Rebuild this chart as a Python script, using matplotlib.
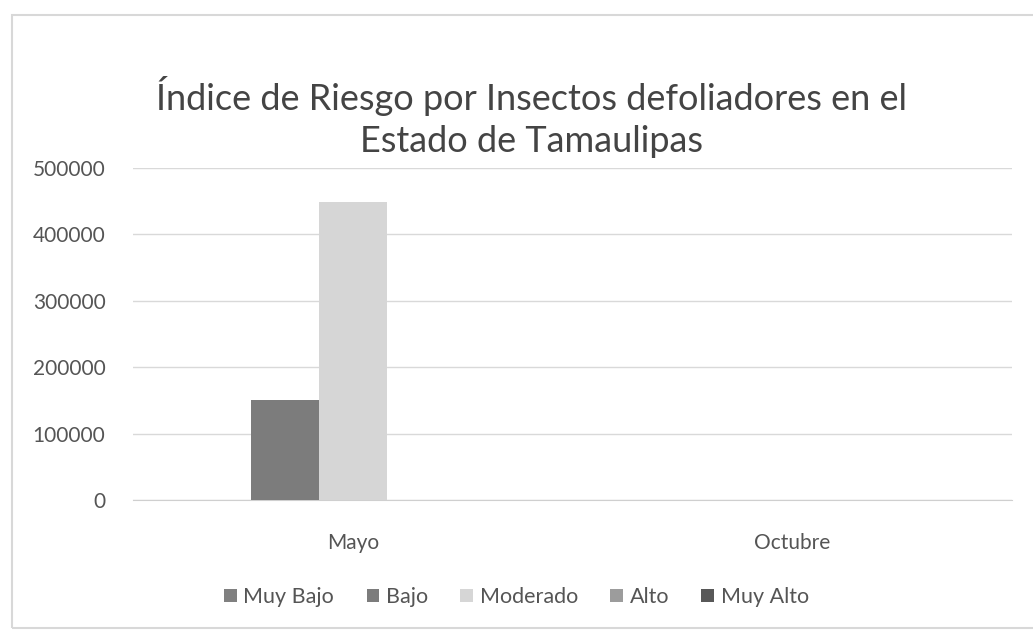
import numpy as np
import matplotlib.pyplot as plt
from matplotlib.patches import Rectangle

# datos
categorias = ["Mayo", "Octubre"]
series = ["Muy Bajo", "Bajo", "Moderado", "Alto", "Muy Alto"]
muy_bajo = [0, 0]
bajo = [150000, 0]
moderado = [448000, 0]
alto = [0, 0]
muy_alto = [0, 0]
valores = [muy_bajo, bajo, moderado, alto, muy_alto]
colores = ["#808080", "#7c7c7c", "#d6d6d6", "#9c9c9c", "#585858"]
yticks = [0, 100000, 200000, 300000, 400000, 500000]

plt.rcParams['font.family'] = ['Lato', 'DejaVu Sans']

fig = plt.figure(figsize=(10.33, 6.31), dpi=100)
ax = fig.add_axes([0.129, 0.2076, 0.851, 0.5264])

x = np.arange(len(categorias))
ancho = 0.155
for i, (nombre, vals, c) in enumerate(zip(series, valores, colores)):
    ax.bar(x + (i - 2) * ancho, vals, width=ancho, color=c, label=nombre, zorder=3)

ax.set_xlim(-0.5, 1.5)
ax.set_ylim(0, 500000)
ax.set_yticks(yticks)
ax.set_yticklabels([str(t) for t in yticks])
ax.set_xticks(x)
ax.set_xticklabels(categorias)
ax.tick_params(axis='y', length=0, pad=20, labelsize=15, labelcolor="#555555")
ax.tick_params(axis='x', length=0, pad=24, labelsize=15, labelcolor="#555555")
ax.grid(axis='y', color="#d9d9d9", linewidth=1, zorder=0)
for s in ["top", "right", "left"]:
    ax.spines[s].set_visible(False)
ax.spines["bottom"].set_color("#cfcfcf")

fig.text(0.515, 1 - 117 / 631, "Índice de Riesgo por Insectos defoliadores en el\nEstado de Tamaulipas",
         ha='center', va='center', fontsize=26, color="#444444", linespacing=1.3)

ax.legend(loc='center', bbox_to_anchor=(0.5, 1 - 597 / 631), bbox_transform=fig.transFigure,
          ncol=5, frameon=False, fontsize=15.5, handlelength=0.6, handleheight=0.6,
          handletextpad=0.3, columnspacing=1.5, labelcolor="#555555")

# marco del gráfico escaneado
fig.patches.append(Rectangle((12 / 1033, 1 - 628 / 631), 1.1, (628 - 15) / 631,
                             transform=fig.transFigure, fill=False,
                             edgecolor="#d8d8d8", linewidth=1.5))

fig.savefig("out.png", dpi=100)
